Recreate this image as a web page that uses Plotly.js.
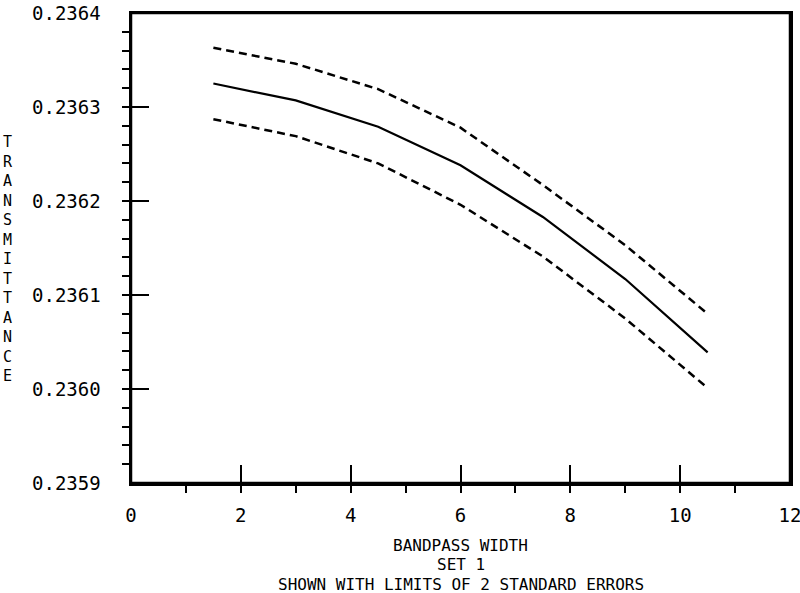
<!DOCTYPE html>
<html>
<head>
<meta charset="utf-8">
<script src="https://cdn.plot.ly/plotly-3.0.1.min.js"></script>
<style>
  html, body { margin: 0; padding: 0; background: #fff; }
  #chart { width: 800px; height: 593px; }
</style>
</head>
<body>
<div id="chart"></div>
<script>
// bandpass widths and transmittance
const bandpass = [1.5, 3, 4.5, 6, 7.5, 9, 10.5];
const transMean = [0.236325, 0.236307, 0.236279, 0.236238, 0.236183, 0.236117, 0.236039];
const transUpper = [0.236363, 0.236346, 0.236319, 0.236278, 0.236217, 0.236153, 0.236080];
const transLower = [0.236287, 0.236269, 0.236240, 0.236196, 0.236141, 0.236075, 0.236001];

const yTicks = [0.2359, 0.2360, 0.2361, 0.2362, 0.2363, 0.2364];
const xTicks = [0, 2, 4, 6, 8, 10, 12];
const yTitle = 'TRANSMITTANCE';
const xTitleLines = ['BANDPASS WIDTH', 'SET 1', 'SHOWN WITH LIMITS OF 2 STANDARD ERRORS'];

const mono = 'DejaVu Sans Mono, monospace';

const traces = [
  {x: bandpass, y: transUpper, type: 'scatter', mode: 'lines',
   line: {color: '#000', width: 2.5, dash: '8px,5px'}},
  {x: bandpass, y: transMean, type: 'scatter', mode: 'lines',
   line: {color: '#000', width: 2.2}},
  {x: bandpass, y: transLower, type: 'scatter', mode: 'lines',
   line: {color: '#000', width: 2.5, dash: '8px,5px'}}
];

// plot area runs from y=13 to y=483, bottom text placed in paper units
const plotTop = 13, plotBottom = 483;
const plotH = plotBottom - plotTop;
const titleY = [545, 564.5, 584].map(py => (plotBottom - py) / plotH);

const annotations = xTitleLines.map((t, i) => ({
  text: t, xref: 'paper', yref: 'paper', x: 0.5, y: titleY[i],
  xanchor: 'center', yanchor: 'middle', showarrow: false,
  font: {family: mono, size: 16, color: '#000'}
}));
annotations.push({
  text: yTitle.split('').join('<br>'),
  xref: 'paper', yref: 'paper', x: (8 - 131) / 659, y: (plotBottom - 259) / plotH,
  xanchor: 'center', yanchor: 'middle', showarrow: false,
  font: {family: mono, size: 15, color: '#000'}
});

const layout = {
  width: 800, height: 593,
  margin: {l: 131, r: 10, t: plotTop, b: 593 - plotBottom},
  paper_bgcolor: '#fff', plot_bgcolor: '#fff',
  showlegend: false,
  font: {family: mono, size: 19, color: '#000'},
  xaxis: {
    range: [0, 12], tickvals: xTicks, ticktext: xTicks.map(String),
    showgrid: false, zeroline: false,
    showline: true, linecolor: '#000', linewidth: 2.5, mirror: true,
    ticks: 'inside', ticklen: 18, tickwidth: 2, tickcolor: '#000',
    ticklabelstandoff: 14, ticklabeloverflow: 'allow',
    minor: {dtick: 1, ticks: 'outside', ticklen: 7, tickwidth: 2, tickcolor: '#000'},
    tickfont: {family: mono, size: 19}
  },
  yaxis: {
    range: [0.2359, 0.2364], tickvals: yTicks, tickformat: '.4f',
    showgrid: false, zeroline: false,
    showline: true, linecolor: '#000', linewidth: 2.5, mirror: true,
    ticks: 'inside', ticklen: 18, tickwidth: 2, tickcolor: '#000',
    ticklabelstandoff: 24, ticklabeloverflow: 'allow',
    minor: {dtick: 0.00002, ticks: 'outside', ticklen: 7, tickwidth: 2, tickcolor: '#000'},
    tickfont: {family: mono, size: 19}
  },
  shapes: [
    {type: 'rect', xref: 'paper', yref: 'paper', x0: 0, x1: 1, y0: 0, y1: 1,
     line: {color: '#000', width: 2.5}, layer: 'above'}
  ],
  annotations: annotations
};

Plotly.newPlot('chart', traces, layout, {displayModeBar: false, staticPlot: true});
</script>
</body>
</html>
